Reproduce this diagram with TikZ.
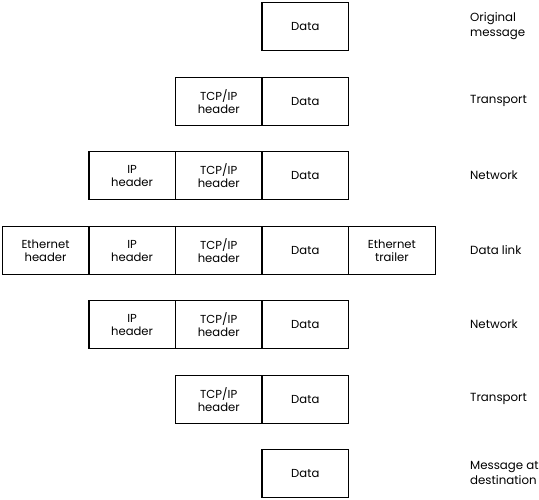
\documentclass[tikz,border=0pt]{standalone}
\usepackage{fontspec}
\setmainfont{Poppins}
\begin{document}
\begin{tikzpicture}[x=1pt,y=-1pt,
  cell/.style={draw=black,line width=1.4pt,minimum width=86.6pt,minimum height=48pt,inner sep=0pt,anchor=north west,align=center,font=\fontsize{11.6}{13}\selectfont},
  lab/.style={anchor=west,align=left,inner sep=0pt,font=\fontsize{11.8}{15}\selectfont}]
\useasboundingbox (0,0) rectangle (539,499);
\def\cA{1.5}\def\cB{88.1}\def\cC{174.7}\def\cD{261.3}\def\cE{347.9}
% row 1
\node[cell] (d1) at (\cD,2) {Data};
\node[lab] (l1) at (470,26) {Original\\message};
% row 2
\node[cell] (t2) at (\cC,77) {TCP/IP\\header};
\node[cell] (d2) at (\cD,77) {Data};
\node[lab] (l2) at (470,101) {Transport};
% row 3
\node[cell] (i3) at (\cB,151) {IP\\header};
\node[cell] (t3) at (\cC,151) {TCP/IP\\header};
\node[cell] (d3) at (\cD,151) {Data};
\node[lab] (l3) at (470,175) {Network};
% row 4
\node[cell] (e4) at (\cA,226) {Ethernet\\header};
\node[cell] (i4) at (\cB,226) {IP\\header};
\node[cell] (t4) at (\cC,226) {TCP/IP\\header};
\node[cell] (d4) at (\cD,226) {Data};
\node[cell] (r4) at (\cE,226) {Ethernet\\trailer};
\node[lab] (l4) at (470,250) {Data link};
% row 5
\node[cell] (i5) at (\cB,300) {IP\\header};
\node[cell] (t5) at (\cC,300) {TCP/IP\\header};
\node[cell] (d5) at (\cD,300) {Data};
\node[lab] (l5) at (470,324) {Network};
% row 6
\node[cell] (t6) at (\cC,375) {TCP/IP\\header};
\node[cell] (d6) at (\cD,375) {Data};
\node[lab] (l6) at (470,399) {Transport};
% row 7
\node[cell] (d7) at (\cD,449) {Data};
\node[lab] (l7) at (470,473) {Message at\\destination};
\end{tikzpicture}
\end{document}
